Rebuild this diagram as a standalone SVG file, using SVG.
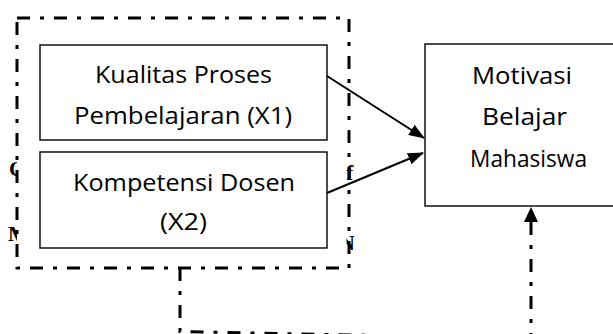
<svg xmlns="http://www.w3.org/2000/svg" width="613" height="334" viewBox="0 0 613 334">
  <style>
    .box { fill: #ffffff; stroke: #000000; stroke-width: 1.4; }
    .label { font-family: "Open Sans", "Noto Sans", "Liberation Sans", sans-serif; font-size: 23px; fill: #000000; text-anchor: middle; }
    .dashdot { fill: none; stroke: #000000; stroke-width: 3; stroke-dasharray: 13 10 4 10; }
    .arrow { fill: none; stroke: #000000; stroke-width: 2; }
    .frag { font-family: "Liberation Serif", serif; font-weight: bold; font-size: 22px; fill: #000000; }
  </style>
  <defs>
    <marker id="head" markerUnits="userSpaceOnUse" markerWidth="16" markerHeight="12" refX="15" refY="6" orient="auto">
      <path d="M0,0 L16,6 L0,12 Z" fill="#000000"/>
    </marker>
    <clipPath id="strips">
      <rect x="8" y="150" width="9" height="110"/>
      <rect x="346.5" y="150" width="7.5" height="110"/>
    </clipPath>
  </defs>

  <rect width="613" height="334" fill="#ffffff"/>

  <!-- partly hidden letters peeking out beside the group frame -->
  <g clip-path="url(#strips)">
    <text class="frag" x="9" y="176">O</text>
    <text class="frag" x="8" y="241">M</text>
    <text class="frag" x="346" y="180" font-size="16">f</text>
    <text class="frag" x="355" y="250" text-anchor="end">N</text>
  </g>

  <g id="x1">
    <rect class="box" x="40" y="45" width="287" height="95"/>
    <text class="label" x="183.5" y="83" textLength="177" lengthAdjust="spacingAndGlyphs">Kualitas Proses</text>
    <text class="label" x="183" y="124" textLength="218" lengthAdjust="spacingAndGlyphs">Pembelajaran (X1)</text>
  </g>

  <g id="x2">
    <rect class="box" x="40" y="152" width="287" height="96"/>
    <text class="label" x="184" y="191" textLength="222" lengthAdjust="spacingAndGlyphs">Kompetensi Dosen</text>
    <text class="label" x="183.5" y="230" textLength="47" lengthAdjust="spacingAndGlyphs">(X2)</text>
  </g>

  <g id="y">
    <rect class="box" x="425" y="44" width="192" height="162"/>
    <text class="label" x="522" y="84" textLength="100" lengthAdjust="spacingAndGlyphs">Motivasi</text>
    <text class="label" x="524.5" y="125" textLength="85" lengthAdjust="spacingAndGlyphs">Belajar</text>
    <text class="label" x="528.5" y="167" textLength="117" lengthAdjust="spacingAndGlyphs">Mahasiswa</text>
  </g>

  <g id="group-frame">
    <rect class="dashdot" x="17" y="18" width="332" height="250"/>
  </g>

  <g id="connectors">
    <line class="arrow" x1="327" y1="76" x2="424" y2="138" marker-end="url(#head)"/>
    <line class="arrow" x1="327" y1="193" x2="423" y2="153" marker-end="url(#head)"/>
    <path class="dashdot" d="M180,268 L180,331.5 L531,338.5 L531,222"/>
    <path d="M531,207 L538,222 L524,222 Z" fill="#000000"/>
  </g>
</svg>
